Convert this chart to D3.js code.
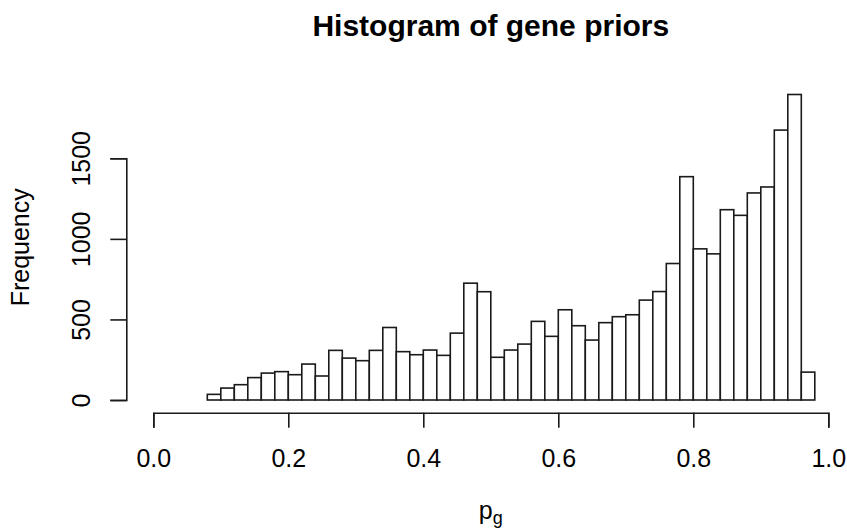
<!DOCTYPE html>
<html>
<head>
<meta charset="utf-8">
<script src="https://cdn.jsdelivr.net/npm/d3@7"></script>
<style>
  html, body { margin: 0; padding: 0; background: #fff; }
  svg { display: block; }
  text { font-family: "Liberation Sans", Arial, Helvetica, sans-serif; fill: #000; }
</style>
</head>
<body>
<svg id="chart" width="847" height="529"></svg>
<script>
// Histogram bins (width 0.02) starting at 0.08
const binStart = 0.08;
const binWidth = 0.02;
const counts = [35, 74, 95, 139, 167, 176, 157, 223, 149, 308,
                260, 244, 308, 450, 300, 281, 310, 277, 415, 725,
                672, 265, 310, 347, 488, 395, 560, 461, 372, 480,
                517, 529, 620, 673, 847, 1386, 938, 907, 1181, 1146,
                1285, 1322, 1675, 1896, 173, 0];
const xTicks = [0, 0.2, 0.4, 0.6, 0.8, 1.0];
const yTicks = [0, 500, 1000, 1500];
const title = "Histogram of gene priors";
const yLabel = "Frequency";

const bins = counts.map((c, i) => ({x0: binStart + i * binWidth, x1: binStart + (i + 1) * binWidth, n: c}));

const svg = d3.select("#chart");
const x = d3.scaleLinear().domain([0, 1]).range([153.3, 828.3]);
const y = d3.scaleLinear().domain([0, 1500]).range([400, 158.3]);
const axisY = 412.7;   // x-axis line position
const axisX = x(-0.04); // y-axis line position
const stroke = "#1a1a1a";
const sw = 1.6;
const fontSize = 25;

// bars
svg.append("g").selectAll("rect").data(bins).join("rect")
  .attr("x", d => x(d.x0))
  .attr("y", d => y(d.n))
  .attr("width", d => x(d.x1) - x(d.x0))
  .attr("height", d => y(0) - y(d.n))
  .attr("fill", "#fff")
  .attr("stroke", stroke)
  .attr("stroke-width", sw);

// x axis
const gx = svg.append("g").attr("transform", `translate(0,${axisY})`)
  .call(d3.axisBottom(x).tickValues(xTicks).tickSize(15).tickSizeOuter(15).tickFormat(d3.format(".1f")));
gx.selectAll("path, line").attr("stroke", stroke).attr("stroke-width", sw);
gx.selectAll("text").attr("font-size", fontSize).attr("font-family", null)
  .attr("y", 54).attr("dy", null).attr("fill", "#000");

// y axis
const gy = svg.append("g").attr("transform", `translate(${axisX},0)`)
  .call(d3.axisLeft(y).tickValues(yTicks).tickSize(16).tickSizeOuter(16).tickFormat(d3.format("d")));
gy.selectAll("path, line").attr("stroke", stroke).attr("stroke-width", sw);
gy.selectAll("text").attr("font-size", fontSize).attr("font-family", null)
  .attr("x", null).attr("dy", null).attr("text-anchor", "middle")
  .attr("transform", `translate(${90 - axisX},0) rotate(-90)`)
  .attr("fill", "#000");

// title
svg.append("text").attr("x", x(0.5)).attr("y", 36)
  .attr("text-anchor", "middle").attr("font-weight", "bold").attr("font-size", 30)
  .text(title);

// y label
svg.append("text").attr("transform", `translate(29,247.3) rotate(-90)`)
  .attr("text-anchor", "middle").attr("font-size", fontSize).text(yLabel);

// x label p_g
const xl = svg.append("text").attr("x", x(0.5)).attr("y", 519)
  .attr("text-anchor", "middle").attr("font-size", fontSize);
xl.append("tspan").text("p");
xl.append("tspan").attr("font-size", 18).attr("dy", 5).text("g");
</script>
</body>
</html>
